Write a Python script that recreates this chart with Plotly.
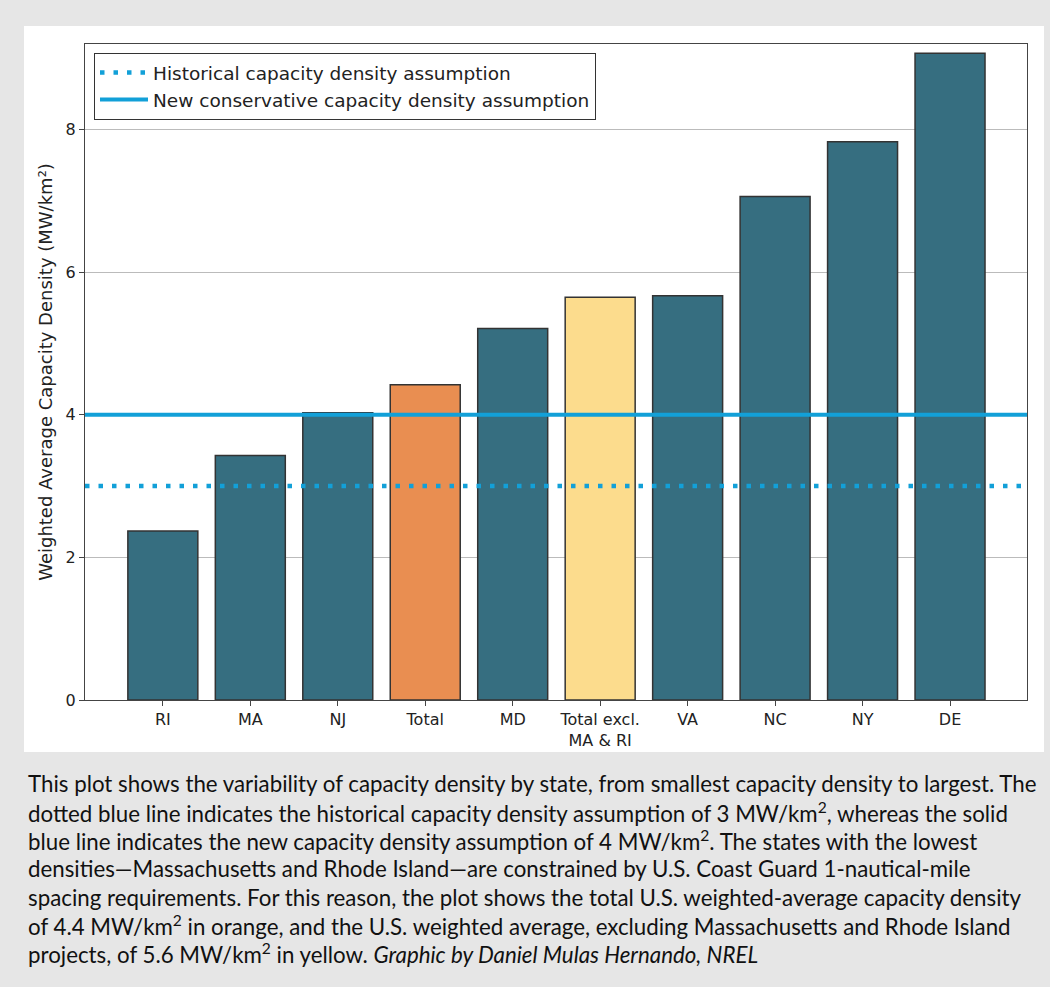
import plotly.graph_objects as go

categories = ["RI", "MA", "NJ", "Total", "MD", "Total excl.<br>MA & RI", "VA", "NC", "NY", "DE"]
values = [2.37, 3.43, 4.03, 4.42, 5.21, 5.65, 5.67, 7.06, 7.83, 9.07]
bar_colors = ["#366e80", "#366e80", "#366e80", "#e98e51", "#366e80",
              "#fcdc8d", "#366e80", "#366e80", "#366e80", "#366e80"]
historical_density = 3
new_density = 4
y_ticks = [0, 2, 4, 6, 8]
caption_lines = [
    "This plot shows the variability of capacity density by state, from smallest capacity density to largest. The",
    "dotted blue line indicates the historical capacity density assumption of 3 MW/km<sup>2</sup>, whereas the solid",
    "blue line indicates the new capacity density assumption of 4 MW/km<sup>2</sup>. The states with the lowest",
    "densities\u2014Massachusetts and Rhode Island\u2014are constrained by U.S. Coast Guard 1-nautical-mile",
    "spacing requirements. For this reason, the plot shows the total U.S. weighted-average capacity density",
    "of 4.4 MW/km<sup>2</sup> in orange, and the U.S. weighted average, excluding Massachusetts and Rhode Island",
    "projects, of 5.6 MW/km<sup>2</sup> in yellow. <i>Graphic by Daniel Mulas Hernando, NREL</i>",
]

W, H = 1050, 987
L, R, T, B = 85, 1027, 44, 700
x_range = [-0.89, 9.88]
y_range = [0, 9.2]

def px_x(px):
    return (px - L) / (R - L)

def px_y(py):
    return (B - py) / (B - T)

x_idx = list(range(len(categories)))

fig = go.Figure()
fig.add_trace(go.Bar(
    x=x_idx, y=values, width=0.8,
    marker=dict(color=bar_colors, line=dict(color="#333333", width=1.5)),
    showlegend=False, hoverinfo="y",
))
fig.add_trace(go.Scatter(
    x=x_range, y=[historical_density] * 2, mode="lines",
    line=dict(color="#12a0d8", width=4.5, dash="4.5px,9px"),
    name="Historical capacity density assumption",
))
fig.add_trace(go.Scatter(
    x=x_range, y=[new_density] * 2, mode="lines",
    line=dict(color="#12a0d8", width=4),
    name="New conservative capacity density assumption",
))

shapes = [dict(type="rect", xref="paper", yref="paper", layer="below",
               x0=px_x(24), x1=px_x(1044), y0=px_y(752), y1=px_y(26),
               fillcolor="white", line=dict(width=0))]

annotations = []
for i, line in enumerate(caption_lines):
    annotations.append(dict(
        text=line, xref="paper", yref="paper", x=px_x(26), y=px_y(784 + i * 28.3),
        xanchor="left", yanchor="middle", showarrow=False, align="left",
        font=dict(family="Lato", size=22.3, color="#111111"),
    ))

fig.update_layout(
    width=W, height=H,
    margin=dict(l=L, r=W - R, t=T, b=H - B, pad=0),
    paper_bgcolor="#e6e6e6", plot_bgcolor="white",
    font=dict(family="DejaVu Sans", color="#222222"),
    shapes=shapes, annotations=annotations,
    bargap=0.2,
    legend=dict(x=px_x(94), y=px_y(53), xanchor="left", yanchor="top",
                bgcolor="white", bordercolor="#333333", borderwidth=1,
                font=dict(size=18.5, family="DejaVu Sans", color="#222222"),
                tracegroupgap=0, itemwidth=48),
    xaxis=dict(range=x_range, tickmode="array", tickvals=x_idx, ticktext=categories,
               showgrid=False, zeroline=False, showline=True, mirror=True,
               linecolor="#444444", linewidth=1.2, ticks="outside", ticklen=5,
               tickcolor="#444444", tickfont=dict(size=16)),
    yaxis=dict(range=y_range, tickmode="array", tickvals=y_ticks,
               showgrid=True, gridcolor="#bbbbbb", gridwidth=1, zeroline=False,
               showline=True, mirror=True, linecolor="#444444", linewidth=1.2,
               ticks="outside", ticklen=5, tickcolor="#444444", tickfont=dict(size=16),
               title=dict(text="Weighted Average Capacity Density (MW/km²)",
                          font=dict(size=18), standoff=8)),
)

fig.write_html("out.html", config={"displayModeBar": False},
               post_script="document.body.style.margin='0';document.body.style.background='#e6e6e6';")
